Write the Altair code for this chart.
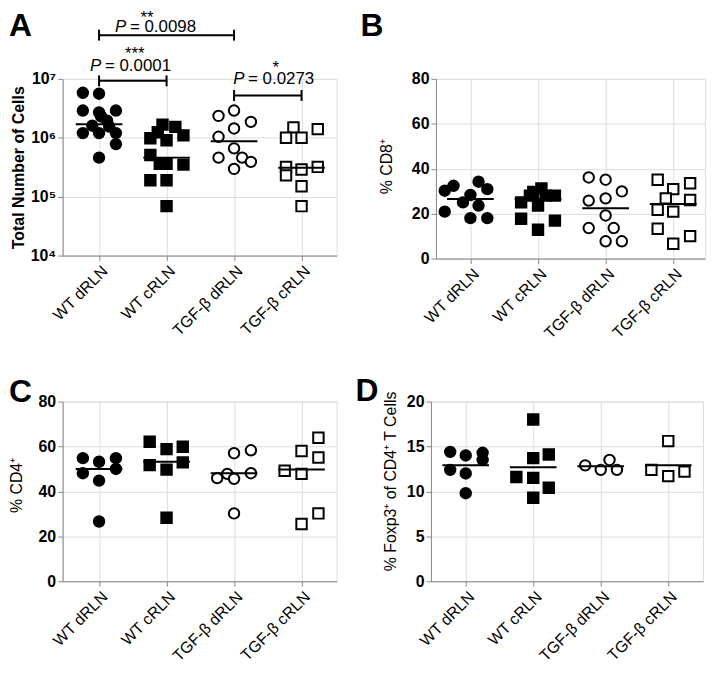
import json
import altair as alt
import pandas as pd

FONT = "Liberation Sans, Arial, Helvetica, sans-serif"

groups = ["WT dRLN", "WT cRLN", "TGF-\u03b2 dRLN", "TGF-\u03b2 cRLN"]
shapes = ["circle", "square", "circle", "square"]
fills = ["black", "black", "white", "white"]

# ---------------- Panel A: total number of cells (log) ----------------
a_vals = [
    [5.8e6, 5.6e6, 2.9e6, 2.7e6, 2.9e6, 2.3e6, 1.95e6, 1.6e6, 1.55e6, 1.2e6, 1.2e6, 1.2e6, 7.8e5, 4.6e5],
    [1.67e6, 1.53e6, 1.24e6, 1.1e6, 9.8e5, 9.1e5, 5.1e5, 3.6e5, 3.6e5, 3.5e5, 1.9e5, 1.9e5, 6.9e4],
    [2.9e6, 2.35e6, 1.86e6, 1.44e6, 1.04e6, 6.6e5, 4.6e5, 4.6e5, 3.9e5, 2.96e5],
    [1.5e6, 1.0e6, 1.0e6, 1.4e6, 3.2e5, 2.3e5, 2.9e5, 3.2e5, 1.5e5, 6.9e4],
]
a_jit = [
    [-0.24, 0, -0.24, 0, 0.25, 0.03, 0.12, -0.1, 0.15, -0.24, 0, 0.25, 0.25, 0],
    [-0.06, 0.13, -0.13, 0.25, -0.24, 0, -0.24, -0.1, 0, 0.25, -0.24, 0, 0],
    [0, -0.23, 0.25, 0, -0.23, 0, -0.23, 0.12, 0.25, 0],
    [-0.12, -0.23, 0, 0.24, -0.23, -0.23, 0, 0.24, 0, 0],
]
a_mean = [1.7e6, 4.6e5, 8.7e5, 3.1e5]

# significance brackets of panel A
br_x1 = [1, 1, 3]
br_x2 = [2, 3, 4]
br_y = [9.25e6, 5.52e7, 5.22e6]
br_stars = ["***", "**", "*"]
br_star_x = [1.53, 1.71, 3.62]
br_star_y = [10 ** 7.337, 10 ** 7.944, 10 ** 7.10]
br_p = ["= 0.0001", "= 0.0098", "= 0.0273"]
br_p_x = [1.47, 1.84, 3.59]
br_p_y = [10 ** 7.135, 10 ** 7.7926, 10 ** 6.916]

# ---------------- Panel B: % CD8+ ----------------
b_vals = [
    [30.2, 32.4, 34.2, 30.9, 28.3, 25.0, 23.6, 20.9, 18.0, 18.0],
    [25.0, 29.7, 31.2, 28.0, 23.6, 28.0, 28.0, 17.7, 16.9, 12.8],
    [36.1, 35.1, 29.9, 25.8, 26.8, 19.2, 13.6, 13.6, 7.7, 7.7],
    [35.1, 30.9, 33.5, 26.8, 26.1, 21.7, 20.9, 13.3, 6.6, 10.0],
]
b_jit = [
    [-0.38, -0.25, 0.12, 0.25, 0, -0.11, 0.12, -0.38, 0, 0.25],
    [-0.25, -0.07, 0.05, 0.25, 0, 0.12, -0.12, -0.25, 0.25, 0],
    [-0.25, 0, 0.24, -0.25, 0, 0, -0.25, 0.12, 0, 0.24],
    [-0.23, 0, 0.25, -0.11, 0.25, -0.23, 0, -0.23, 0, 0.25],
]
b_mean = [26.5, 26.5, 22.4, 24.3]

# ---------------- Panel C: % CD4+ ----------------
c_vals = [
    [54.8, 53.2, 54.8, 48.1, 50.0, 44.8, 26.6],
    [62.1, 58.8, 59.9, 51.7, 52.9, 49.7, 28.3],
    [57.0, 58.3, 45.9, 47.8, 45.6, 48.1, 30.2],
    [63.9, 58.0, 55.1, 49.2, 47.8, 30.2, 25.5],
]
c_jit = [
    [-0.24, 0, 0.25, -0.24, 0.25, 0, 0],
    [-0.25, 0, 0.24, -0.25, 0.24, 0, 0],
    [0, 0.25, -0.25, -0.1, 0, 0.25, 0],
    [0.25, 0, 0.25, -0.25, 0, 0.25, 0],
]
c_mean = [50.0, 53.2, 48.1, 49.7]

# ---------------- Panel D: % Foxp3+ of CD4+ T cells ----------------
d_vals = [
    [14.4, 14.0, 14.3, 13.5, 12.4, 12.0, 9.8],
    [18.0, 13.7, 14.1, 11.6, 11.5, 10.4, 9.3],
    [12.9, 12.4, 13.5, 12.4],
    [15.6, 12.4, 11.7, 12.2],
]
d_jit = [
    [-0.23, 0, 0.25, 0.25, -0.23, 0, 0],
    [0, 0, 0.23, -0.25, 0, 0.23, 0],
    [-0.23, 0, 0.13, 0.24],
    [0, -0.25, 0, 0.24],
]
d_mean = [12.9, 12.7, 12.8, 12.9]


def points_df(vals, jit):
    rows = []
    for gi, (vs, js) in enumerate(zip(vals, jit)):
        for v, j in zip(vs, js):
            rows.append({"pos": gi + 1 + j, "value": v, "shape": shapes[gi], "fill": fills[gi]})
    return pd.DataFrame(rows)


def mean_df(means):
    return pd.DataFrame({"pos": [i + 1 for i in range(len(groups))], "value": means})


x_label_expr = json.dumps([""] + groups) + "[datum.value]"


def panel(vals, jit, means, ydomain, yvalues, ytitle, letter, width, height, xdomain,
          letter_x, letter_y, title_x, title_y, ylog=False, ylabel_expr=None, title_bold=False):
    pts = points_df(vals, jit)
    xenc = alt.X("pos:Q",
                 scale=alt.Scale(domain=xdomain, nice=False, zero=False),
                 axis=alt.Axis(values=[1, 2, 3, 4], labelExpr=x_label_expr, title=None,
                               labelAngle=-45, labelFontSize=16, labelFontWeight="normal",
                               labelPadding=2, labelOverlap=False, labelFlush=False))
    yscale = alt.Scale(type="log", domain=ydomain, nice=False) if ylog else \
        alt.Scale(domain=ydomain, nice=False, zero=True)
    axis_kw = dict(values=yvalues, title=ytitle, titleFontSize=16,
                   titleFontWeight="bold" if title_bold else "normal",
                   titleAngle=-90, titleBaseline="middle", titleAlign="center",
                   titleX=title_x, titleY=title_y, labelOverlap=False, labelFlush=False,
                   labelFontSize=16, labelFontWeight="bold", labelPadding=2)
    if ylabel_expr:
        axis_kw["labelExpr"] = ylabel_expr
    yenc = alt.Y("value:Q", scale=yscale, axis=alt.Axis(**axis_kw))

    dots = alt.Chart(pts).mark_point(filled=True, size=110, stroke="black", strokeWidth=2, opacity=1).encode(
        x=xenc, y=yenc,
        shape=alt.Shape("shape:N", scale=alt.Scale(domain=["circle", "square"], range=["circle", "square"]), legend=None),
        fill=alt.Fill("fill:N", scale=alt.Scale(domain=["black", "white"], range=["black", "white"]), legend=None),
    )
    mline = alt.Chart(mean_df(means)).mark_tick(orient="horizontal", size=47, thickness=2,
                                                color="black", opacity=1).encode(
        x=alt.X("pos:Q"), y=alt.Y("value:Q"))
    lab = alt.Chart(pd.DataFrame({"t": [letter]})).mark_text(
        font=FONT, fontSize=32, fontWeight="bold", align="left", baseline="alphabetic", color="black"
    ).encode(x=alt.value(letter_x), y=alt.value(letter_y), text="t:N")
    return [dots, mline, lab], width, height


# ---- Panel A with brackets ----
layersA, wA, hA = panel(a_vals, a_jit, a_mean, [1e4, 1e7], [1e4, 1e5, 1e6, 1e7],
                        "Total  Number of Cells", "A", 276, 178, [0.46, 4.52],
                        -54, -43, -44, 89, ylog=True,
                        ylabel_expr="'10' + ['\u2074','\u2075','\u2076','\u2077'][round(log(datum.value)/LN10) - 4]",
                        title_bold=True)

br = pd.DataFrame({"x1": br_x1, "x2": br_x2, "y": br_y})
br_ends = pd.DataFrame({"x": br_x1 + br_x2, "y": br_y + br_y})
stars = pd.DataFrame({"x": br_star_x, "y": br_star_y, "t": br_stars})
ptxt = pd.DataFrame({"x": br_p_x, "y": br_p_y, "t": br_p})

br_lines = alt.Chart(br).mark_rule(strokeWidth=2, color="black").encode(x="x1:Q", x2="x2:Q", y="y:Q")
br_caps = alt.Chart(br_ends).mark_tick(orient="vertical", size=11, thickness=2, color="black",
                                       opacity=1).encode(x="x:Q", y="y:Q")
star_txt = alt.Chart(stars).mark_text(font=FONT, fontSize=17, align="center", baseline="alphabetic", color="black").encode(
    x="x:Q", y="y:Q", text="t:N")
p_italic = alt.Chart(ptxt).mark_text(font=FONT, fontSize=17, fontStyle="italic", align="left", baseline="alphabetic",
                                     dx=-41, color="black").encode(x="x:Q", y="y:Q", text=alt.value("P"))
p_rest = alt.Chart(ptxt).mark_text(font=FONT, fontSize=17, align="left", baseline="alphabetic",
                                   dx=-26, color="black").encode(x="x:Q", y="y:Q", text="t:N")

chartA = alt.layer(*layersA, br_lines, br_caps, star_txt, p_italic, p_rest).properties(width=wA, height=hA)

layersB, wB, hB = panel(b_vals, b_jit, b_mean, [0, 80], [0, 20, 40, 60, 80],
                        "% CD8\u207a", "B", 271, 181, [0.49, 4.47], -76, -43, -50, 88)
chartB = alt.layer(*layersB).properties(width=wB, height=hB)

layersC, wC, hC = panel(c_vals, c_jit, c_mean, [0, 80], [0, 20, 40, 60, 80],
                        "% CD4\u207a", "C", 276, 181, [0.46, 4.52], -54, 0, -46, 84)
chartC = alt.layer(*layersC).properties(width=wC, height=hC)

layersD, wD, hD = panel(d_vals, d_jit, d_mean, [0, 20], [0, 5, 10, 15, 20],
                        "% Foxp3\u207a of CD4\u207a  T Cells", "D", 274, 181, [0.485, 4.515], -76, -1, -41, 80)
chartD = alt.layer(*layersD).properties(width=wD, height=hD)

top = alt.hconcat(chartA, chartB, spacing=100, bounds="flush")
bottom = alt.hconcat(chartC, chartD, spacing=95, bounds="flush")

chart = alt.vconcat(top, bottom, spacing=325, bounds="flush").properties(
    padding={"left": 0, "top": -2, "right": 0, "bottom": 0}
).configure_view(stroke=None).configure_axis(
    domainColor="black", domainWidth=2, tickColor="black", tickWidth=2, tickSize=6,
    labelColor="black", titleColor="black", labelFont=FONT, titleFont=FONT, grid=False,
).configure(background="white")

chart.save("out.html", embed_options={"renderer": "svg", "actions": False})
